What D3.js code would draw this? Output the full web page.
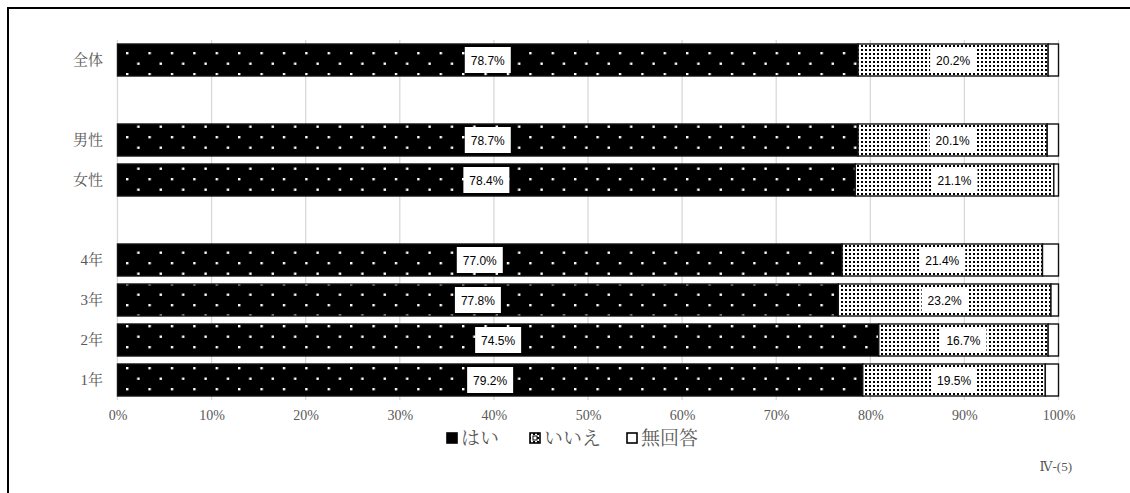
<!DOCTYPE html>
<html><head><meta charset="utf-8">
<script src="https://cdn.jsdelivr.net/npm/d3@7"></script>
<style>
html,body{margin:0;padding:0;background:#fff;}
svg{display:block;}
</style></head>
<body><svg id="c" width="1130" height="493"></svg>
<script>
// ---- data ----
const categories = ["全体", "", "男性", "女性", "", "4年", "3年", "2年", "1年"];
const seriesNames = ["はい", "いいえ", "無回答"];
const yesValues = [78.7, null, 78.7, 78.4, null, 77.0, 76.6, 80.9, 79.2];
const noValues  = [20.2, null, 20.1, 21.1, null, 21.3, 22.6, 18.0, 19.4];
const naValues  = [1.1, null, 1.2, 0.5, null, 1.7, 0.8, 1.1, 1.4];
const yesLabels = ["78.7%", "", "78.7%", "78.4%", "", "77.0%", "77.8%", "74.5%", "79.2%"];
const noLabels  = ["20.2%", "", "20.1%", "21.1%", "", "21.4%", "23.2%", "16.7%", "19.5%"];
const tickValues = [0, 10, 20, 30, 40, 50, 60, 70, 80, 90, 100];
const footnote = "Ⅳ-(5)";

// ---- drawing ----
const svg = d3.select("#c");
const serif = "'Liberation Serif','DejaVu Serif','Noto Serif CJK JP','Noto Sans CJK JP',serif";
const gray = "#595959";

// outer frame (clipped on right and bottom)
svg.append("path").attr("d", "M8,493V8H1130").attr("fill", "none").attr("stroke", "#000").attr("stroke-width", 2);

const defs = svg.append("defs");
const pYes = defs.append("pattern").attr("id", "pYes").attr("patternUnits", "userSpaceOnUse")
  .attr("width", 22.4).attr("height", 21).attr("x", 126).attr("y", 52);
pYes.append("rect").attr("width", 22.4).attr("height", 21).attr("fill", "#000");
pYes.append("rect").attr("x", 0).attr("y", 0).attr("width", 2.4).attr("height", 2.4).attr("fill", "#fff");
pYes.append("rect").attr("x", 11.2).attr("y", 10.5).attr("width", 2.4).attr("height", 2.4).attr("fill", "#fff");

const pNo = defs.append("pattern").attr("id", "pNo").attr("patternUnits", "userSpaceOnUse")
  .attr("width", 4).attr("height", 4);
pNo.append("rect").attr("width", 4).attr("height", 4).attr("fill", "#fff");
pNo.append("rect").attr("x", 1).attr("y", 1).attr("width", 2).attr("height", 2).attr("fill", "#000");

const x = d3.scaleLinear().domain([0, 100]).range([117.5, 1058.5]);
const y = d3.scaleBand().domain(d3.range(categories.length)).range([40, 400]).paddingInner(0.2).paddingOuter(0.1);

// gridlines
svg.append("g").selectAll("line").data(tickValues).join("line")
  .attr("x1", d => x(d)).attr("x2", d => x(d))
  .attr("y1", 40).attr("y2", 400)
  .attr("stroke", "#d9d9d9").attr("stroke-width", 1.3);

// x axis labels
const xAxis = d3.axisBottom(x).tickValues(tickValues).tickFormat(d => d + "%").tickSize(0).tickPadding(0);
const gx = svg.append("g").attr("transform", "translate(0,410)").call(xAxis);
gx.select(".domain").remove();
gx.selectAll("text").attr("font-family", serif).attr("font-size", 14).attr("fill", gray);

// category labels
const yAxis = d3.axisLeft(y).tickFormat(i => categories[i]).tickSize(0).tickPadding(0);
const gy = svg.append("g").attr("transform", "translate(103,0)").call(yAxis);
gy.select(".domain").remove();
gy.selectAll("text").attr("font-family", serif).attr("font-size", 15).attr("fill", gray);

// bars
const rows = categories.map((c, i) => ({i, yes: yesValues[i], no: noValues[i], na: naValues[i], yl: yesLabels[i], nl: noLabels[i]}))
  .filter(r => r.yes != null);
const bars = svg.append("g");
rows.forEach(r => {
  const y0 = y(r.i), h = y.bandwidth();
  const segs = [
    {s: 0, e: r.yes, fill: "url(#pYes)"},
    {s: r.yes, e: r.yes + r.no, fill: "url(#pNo)"},
    {s: r.yes + r.no, e: r.yes + r.no + r.na, fill: "#fff"}
  ];
  bars.selectAll(null).data(segs).join("rect")
    .attr("x", d => x(d.s)).attr("width", d => x(d.e) - x(d.s))
    .attr("y", y0).attr("height", h)
    .attr("fill", d => d.fill).attr("stroke", "#111").attr("stroke-width", 1.4);
  const labs = [
    {t: r.yl, c: r.yes / 2},
    {t: r.nl, c: r.yes + r.no / 2}
  ];
  labs.forEach(l => {
    const cx = x(l.c), cy = y0 + h / 2;
    bars.append("rect").attr("x", cx - 23).attr("y", cy - 13).attr("width", 46).attr("height", 26).attr("fill", "#fff");
    bars.append("text").attr("x", cx).attr("y", cy + 0.5).attr("text-anchor", "middle").attr("dominant-baseline", "central")
      .attr("font-family", "'Liberation Sans Narrow','Liberation Sans',Arial,sans-serif").attr("font-size", 12)
      .attr("fill", "#000").text(l.t);
  });
});

// legend
const legendItems = [
  {name: seriesNames[0], x: 447, fill: "#000"},
  {name: seriesNames[1], x: 530, fill: "url(#pNo)"},
  {name: seriesNames[2], x: 627, fill: "#fff"}
];
const lg = svg.append("g");
legendItems.forEach(it => {
  lg.append("rect").attr("x", it.x).attr("y", 433).attr("width", 10).attr("height", 10)
    .attr("fill", it.fill).attr("stroke", "#000").attr("stroke-width", 1.6);
  if (it.name === seriesNames[1]) {
    lg.append("rect").attr("x", it.x + 3).attr("y", 436).attr("width", 4).attr("height", 4).attr("fill", "#fff").attr("stroke", "#000").attr("stroke-width", 1);
  }
  lg.append("text").attr("x", it.x + 14).attr("y", 438).attr("dominant-baseline", "central")
    .attr("font-family", serif).attr("font-size", 19).attr("fill", gray).text(it.name);
});

// footnote
svg.append("text").attr("x", 1072).attr("y", 466).attr("text-anchor", "end").attr("dominant-baseline", "central")
  .attr("font-family", serif).attr("font-size", 13).attr("fill", gray).text(footnote);
</script>
</body></html>
